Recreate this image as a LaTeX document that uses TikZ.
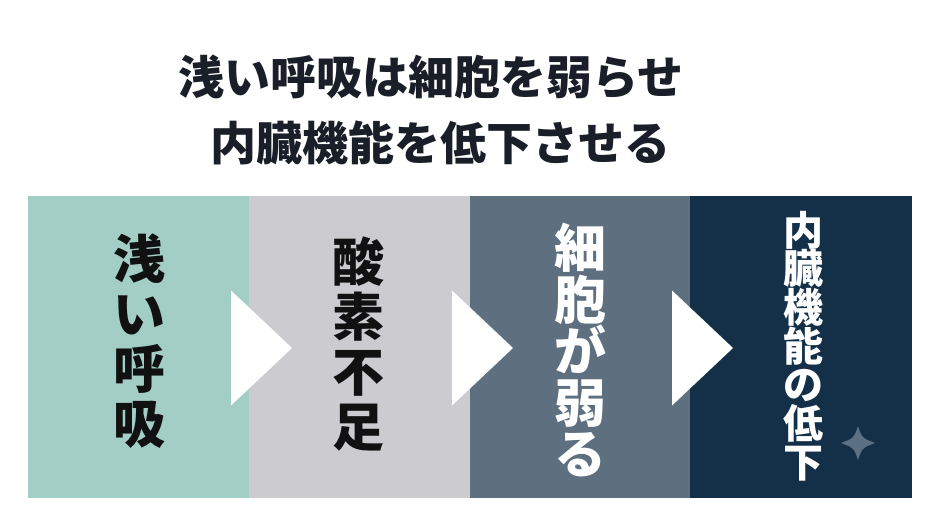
\documentclass[tikz,border=0pt]{standalone}
\usepackage{fontspec}
\newfontfamily\jp{Noto Sans CJK JP}
\definecolor{titlecol}{HTML}{1A1E28}
\definecolor{pone}{HTML}{A3CEC5}
\definecolor{ptwo}{HTML}{CCCBCF}
\definecolor{pthree}{HTML}{5E6F7F}
\definecolor{pfour}{HTML}{143048}
\definecolor{starcol}{HTML}{5B7082}
\definecolor{darktext}{HTML}{111111}
\newcommand\tightlines{\setlength{\lineskiplimit}{-100pt}\setlength{\lineskip}{0pt}}
\tikzset{
  panel/.style={draw=none, inner sep=0pt, minimum width=#1, minimum height=302pt, anchor=north west},
  titletext/.style={font=\jp\bfseries\fontsize{46}{50}\selectfont, text=titlecol, inner sep=0pt},
  bigvert/.style={font=\jp\bfseries\fontsize{52}{#1}\selectfont\tightlines, align=center, inner sep=0pt},
  smallvert/.style={font=\jp\bfseries\fontsize{40}{38.7}\selectfont\tightlines, align=center, inner sep=0pt},
  flowarrow/.style={fill=white, draw=none},
}
\begin{document}
\begin{tikzpicture}[x=1pt,y=-1pt]
\useasboundingbox (0,0) rectangle (940,525);
\fill[white] (0,0) rectangle (940,525);
% title
\node[titletext] (title1) at (431,77) {浅い呼吸は細胞を弱らせ};
\node[titletext] (title2) at (440,143) {内臓機能を低下させる};
% panels
\node[panel=221pt, fill=pone]   (p1) at (28,196) {};
\node[panel=221pt, fill=ptwo]   (p2) at (249,196) {};
\node[panel=221pt, fill=pthree] (p3) at (470,196) {};
\node[panel=222pt, fill=pfour]  (p4) at (690,196) {};
% labels
\node[bigvert=55pt, text=darktext] (t1) at (139,341) {浅\\い\\呼\\吸};
\node[bigvert=55pt, text=darktext] (t2) at (358,344) {酸\\素\\不\\足};
\node[bigvert=51.5pt, text=white]  (t3) at (580,350) {細\\胞\\が\\弱\\る};
\node[smallvert, text=white]     (t4) at (803,346) {内\\臓\\機\\能\\の\\低\\下};
% arrows
\foreach \b in {249,470,690}{
  \fill[flowarrow] (\b-18,290.5) -- (\b+43,348) -- (\b-18,405.5) -- cycle;
}
% sparkle
\fill[starcol] (858,426) .. controls (862,438) .. (875,443)
  .. controls (862,448) .. (858,460)
  .. controls (854,448) .. (841,443)
  .. controls (854,438) .. cycle;
\end{tikzpicture}
\end{document}
